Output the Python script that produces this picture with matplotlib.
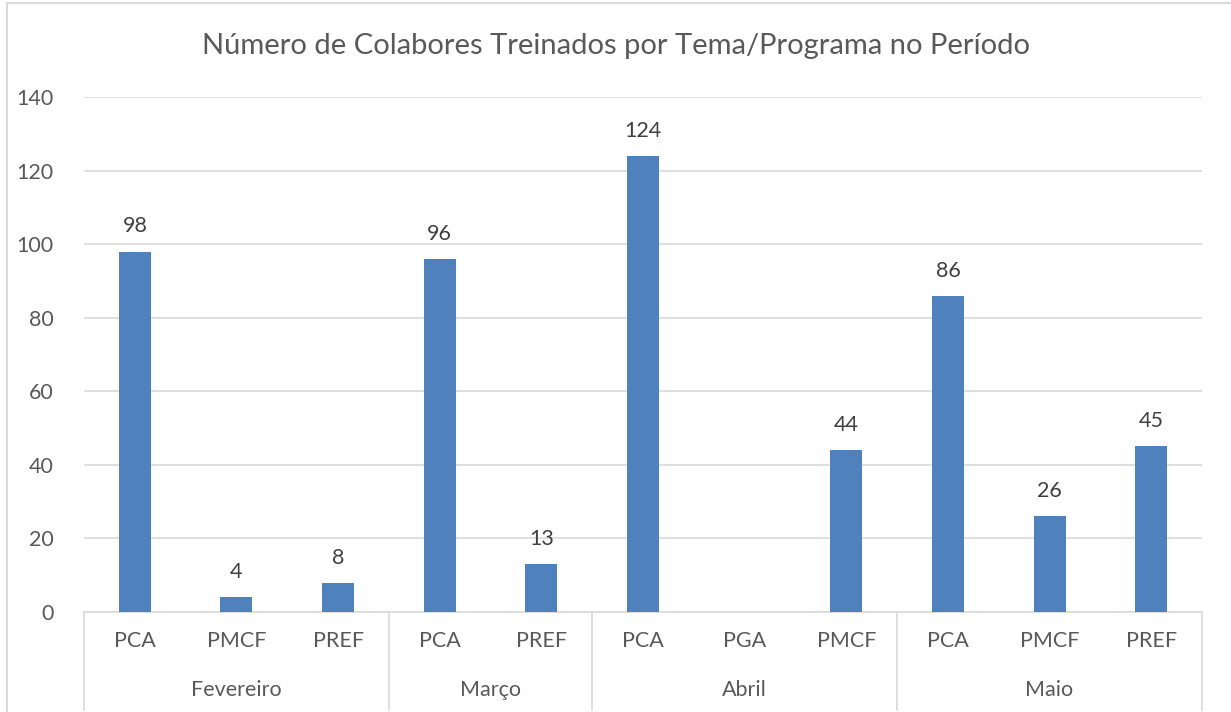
import matplotlib.pyplot as plt
import matplotlib.transforms as mtransforms
from matplotlib.patches import Rectangle
import numpy as np

plt.rcParams['font.family'] = ['Lato', 'DejaVu Sans']

# data
months = ["Fevereiro", "Março", "Abril", "Maio"]
programs = [
    ["PCA", "PMCF", "PREF"],
    ["PCA", "PREF"],
    ["PCA", "PGA", "PMCF"],
    ["PCA", "PMCF", "PREF"],
]
values = [
    [98, 4, 8],
    [96, 13],
    [124, None, 44],
    [86, 26, 45],
]

bar_color = "#4F81BD"
text_color = "#595959"
line_color = "#D9D9D9"

# flatten the two level categories
labels = [p for group in programs for p in group]
heights = [np.nan if v is None else v for group in values for v in group]
x = np.arange(len(labels))

fig = plt.figure(figsize=(12.31, 7.12), dpi=100)
ax = fig.add_axes([84 / 1231, 100 / 712, 1118 / 1231, 515 / 712])

ax.bar(x, heights, width=0.315, color=bar_color, zorder=3)

# value labels above the bars
for xi, h in zip(x, heights):
    if np.isnan(h):
        continue
    ax.annotate(str(int(h)), (xi, h), xytext=(0, 18), textcoords="offset points",
                ha="center", va="center", fontsize=15.5, color="#404040")

ax.set_xlim(-0.5, len(labels) - 0.5)
ax.set_ylim(0, 140)
ax.set_yticks(np.arange(0, 141, 20))
ax.grid(axis="y", color=line_color, linewidth=1.2, zorder=0)
ax.tick_params(axis="y", length=0, pad=22, labelsize=15.5, labelcolor=text_color)

ax.set_xticks(x)
ax.set_xticklabels(labels)
ax.tick_params(axis="x", length=0, pad=14, labelsize=15.5, labelcolor=text_color)

for side in ["top", "right", "left"]:
    ax.spines[side].set_visible(False)
ax.spines["bottom"].set_color(line_color)
ax.spines["bottom"].set_linewidth(1.2)

# second level of the category axis: month names and separators
trans = mtransforms.blended_transform_factory(ax.transData, ax.transAxes)
bounds = np.cumsum([0] + [len(g) for g in programs]) - 0.5
for i, m in enumerate(months):
    mid = (bounds[i] + bounds[i + 1]) / 2
    ax.text(mid, -0.151, m, transform=trans, ha="center", va="center",
            fontsize=15.5, color=text_color)
for b in bounds:
    ax.plot([b, b], [0, -0.19], transform=trans, color=line_color,
            linewidth=1.2, clip_on=False)

fig.suptitle("Número de Colabores Treinados por Tema/Programa no Período",
             y=1 - 46 / 712, va="center", fontsize=21, color=text_color)

# chart area border
fig.patches.append(Rectangle((7 / 1231, -0.05), 1.05, 1.05 - 3 / 712,
                             transform=fig.transFigure, fill=False,
                             edgecolor=line_color, linewidth=1.5))

fig.savefig("out.png", dpi=100)
